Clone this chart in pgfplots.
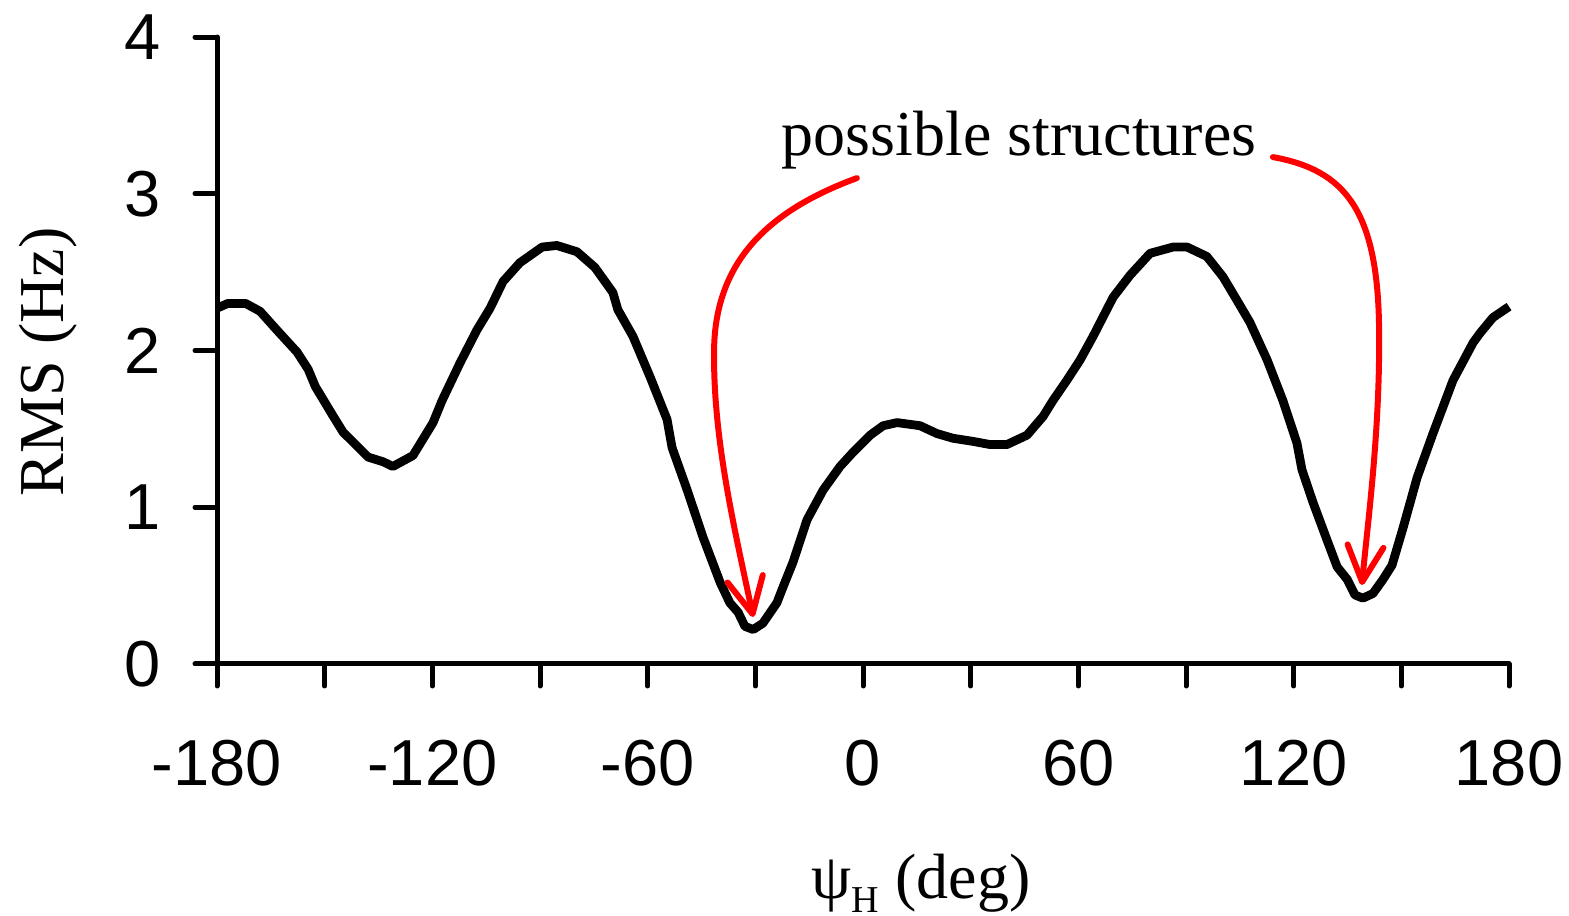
\documentclass[border=0pt]{standalone}
\usepackage{fontspec}
\setmainfont{Liberation Serif}
\setsansfont{Liberation Sans}
\usepackage{pgfplots}
\pgfplotsset{compat=1.18}
\usetikzlibrary{arrows.meta}

\begin{document}
\begin{tikzpicture}
\useasboundingbox (-54.25pt,-63pt) rectangle (338pt,166pt);
\begin{axis}[
    at={(0pt,0pt)}, anchor=south west,
    scale only axis, width=323pt, height=156.75pt,
    xmin=-180, xmax=180, ymin=0, ymax=4,
    clip=false,
    axis lines*=left,
    axis line style={line width=1.25pt, line cap=round},
    xtick={-180,-120,...,180},
    minor xtick={-150,-90,...,150},
    ytick={0,1,2,3,4},
    tick align=outside,
    major tick length=5.5pt, minor tick length=5.5pt,
    tick style={black, line width=1.25pt, line cap=round},
    tick label style={font=\fontsize{16.25}{19}\selectfont\sffamily},
    xticklabel style={yshift=-10pt},
    yticklabel style={xshift=-5pt},
    /pgf/number format/assume math mode=true,
    xlabel={ψ\raisebox{-3.5pt}{\fontsize{9.5}{10}\selectfont H} (deg)},
    xlabel style={at={([yshift=-58.5pt]rel axis cs:0.545,0)}, anchor=base,
        font=\fontsize{16}{19}\selectfont},
    ylabel={RMS (Hz)},
    ylabel style={at={([xshift=-38.25pt]rel axis cs:0,0.482)}, anchor=base,
        rotate=0, font=\fontsize{16}{19}\selectfont},
]

% RMS vs psi_H
\addplot[black, line width=2.2pt, line join=round] coordinates {
    (-180,2.27) (-177,2.30) (-172,2.30) (-168,2.25) (-163.3,2.13) (-157.7,1.99)
    (-154.6,1.88) (-152.6,1.77) (-147.6,1.58) (-144.9,1.48) (-137.9,1.32)
    (-133.7,1.29) (-131,1.26) (-125.4,1.33) (-119.8,1.54) (-117.3,1.68)
    (-112.3,1.92) (-107.6,2.13) (-103.9,2.27) (-100.3,2.44) (-95.6,2.56)
    (-89.4,2.66) (-85.3,2.67) (-79.7,2.63) (-74.7,2.53) (-69.7,2.37)
    (-68.3,2.26) (-64.1,2.09) (-59.3,1.83) (-54.6,1.56) (-53.2,1.38)
    (-49.0,1.11) (-44.6,0.81) (-39.8,0.52) (-37.1,0.39) (-34.8,0.33)
    (-32.9,0.24) (-30.6,0.22) (-27.9,0.26) (-24.0,0.39) (-22.3,0.49)
    (-19.5,0.65) (-15.6,0.92) (-11.1,1.11) (-6.4,1.26) (-2.8,1.35)
    (2.0,1.46) (5.6,1.52) (9.5,1.54) (15.9,1.52) (20.6,1.47) (25.1,1.44)
    (30.7,1.42) (35.4,1.40) (40.1,1.40) (45.7,1.46) (50.2,1.58) (52.9,1.68)
    (56.8,1.81) (60.5,1.94) (64.1,2.09) (69.7,2.34) (74.4,2.48) (80.0,2.62)
    (86.4,2.66) (90.3,2.66) (95.8,2.60) (100.3,2.47) (104.2,2.32)
    (107.8,2.18) (112.6,1.94) (117.0,1.68) (120.9,1.41) (122.3,1.24)
    (125.4,1.03) (129.3,0.79) (132.1,0.62) (134.9,0.54) (137.1,0.44)
    (139.3,0.42) (142.1,0.45) (144.9,0.54) (147.4,0.63) (150.5,0.87)
    (154.4,1.19) (158.8,1.47) (164.4,1.81) (170.0,2.05) (171.9,2.11)
    (175.5,2.21) (180,2.28)};

% annotation
\node[anchor=base, font=\fontsize{16}{19}\selectfont] at (axis cs:43.5,3.247) {possible structures};
\draw[red, line width=1.5pt, line cap=round, -{Straight Barb[length=9pt, width=9pt, round]}]
    (axis cs:-1.7,3.10) .. controls (axis cs:-25.9,2.896) and (axis cs:-41.2,2.577)
    .. (axis cs:-41.5,2.003) .. controls (axis cs:-41.8,1.429) and (axis cs:-35.7,0.855)
    .. (axis cs:-30.6,0.30);
\draw[red, line width=1.5pt, line cap=round, -{Straight Barb[length=9pt, width=9pt, round]}]
    (axis cs:114.2,3.234) .. controls (axis cs:134.3,3.151) and (axis cs:143.5,2.896)
    .. (axis cs:143.8,2.131) .. controls (axis cs:144.1,1.493) and (axis cs:140.7,0.919)
    .. (axis cs:139.0,0.504);
\end{axis}
\end{tikzpicture}
\end{document}
